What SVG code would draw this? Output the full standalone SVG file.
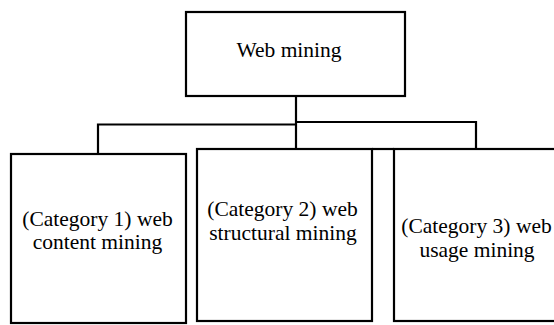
<svg xmlns="http://www.w3.org/2000/svg" width="554" height="325" viewBox="0 0 554 325">
<style>
.box{fill:#fff;stroke:#000;stroke-width:2.2}
.conn{fill:none;stroke:#000;stroke-width:2.2}
.t{font-family:'Liberation Serif','Times New Roman','DejaVu Serif',serif;font-size:21.5px;fill:#000;text-anchor:middle}
</style>
<rect width="554" height="325" fill="#fff"/>
<g id="connectors">
<polyline class="conn" points="296,96 296,149"/>
<polyline class="conn" points="98,154 98,124.5 296,124.5"/>
<polyline class="conn" points="296,122 476,122 476,149"/>
<line class="conn" x1="372" y1="149" x2="394" y2="149"/>
</g>
<g id="web-mining">
<rect class="box" x="186" y="12" width="219" height="84"/>
<text class="t" x="289" y="57" font-family="Liberation Serif, serif">Web mining</text>
</g>
<g id="category-1">
<rect class="box" x="11" y="154" width="175" height="169"/>
<text class="t" x="97.5" y="226" font-family="Liberation Serif, serif">(Category 1) web</text>
<text class="t" x="97.5" y="249" font-family="Liberation Serif, serif">content mining</text>
</g>
<g id="category-2">
<rect class="box" x="197" y="149" width="175" height="172"/>
<text class="t" x="282.5" y="216" font-family="Liberation Serif, serif">(Category 2) web</text>
<text class="t" x="283" y="240" font-family="Liberation Serif, serif">structural mining</text>
</g>
<g id="category-3">
<rect class="box" x="394" y="149" width="170" height="172"/>
<text class="t" x="476.5" y="233" font-family="Liberation Serif, serif">(Category 3) web</text>
<text class="t" x="477" y="257" font-family="Liberation Serif, serif">usage mining</text>
</g>
</svg>
